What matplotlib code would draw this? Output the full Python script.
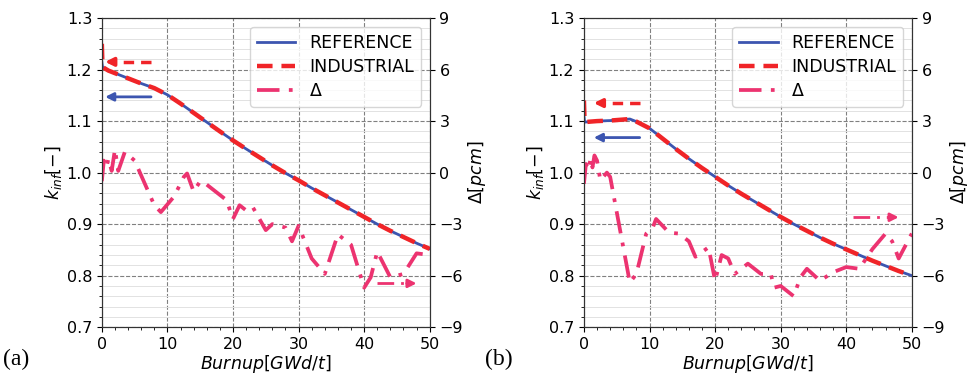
import numpy as np
import matplotlib
matplotlib.use('Agg')
import matplotlib.pyplot as plt
from matplotlib.ticker import MultipleLocator

# ---- data ----
# panel (a)
burnup_a = [0, 0.1, 1, 2, 4, 6, 8, 10, 12, 14, 16, 18, 20, 22, 24, 26, 28, 30,
            32, 34, 36, 38, 40, 42, 44, 46, 48, 50]
kref_a = [1.215, 1.205, 1.198, 1.193, 1.183, 1.173, 1.164, 1.151, 1.134, 1.116,
          1.098, 1.080, 1.0625, 1.046, 1.030, 1.014, 0.999, 0.985, 0.970, 0.956,
          0.942, 0.928, 0.914, 0.900, 0.887, 0.875, 0.863, 0.852]
kind_a = [1.250] + kref_a[1:]
dburn_a = [0, 0.3, 0.7, 1, 1.5, 2, 2.5, 3.5, 5, 8, 9, 11, 12.5, 13, 14, 15, 16,
           19, 20, 21, 22, 23, 25, 26, 28, 29, 30, 32, 34, 36, 38, 40, 41, 42,
           44, 46, 48, 50]
delta_a = [-0.5, 0.7, 0.3, 0.8, 0.1, 1.35, 0.1, 1.2, 0.7, -1.9, -2.3, -1.4, -0.25,
           -0.05, -1.1, -0.5, -0.7, -1.6, -2.7, -1.9, -2.2, -2.0, -3.35, -3.0,
           -3.2, -4.0, -3.1, -5.0, -5.9, -3.6, -4.2, -6.7, -6.1, -4.6, -6.1, -5.9,
           -4.7, -4.8]

# panel (b)
burnup_b = [0, 0.1, 1, 2, 4, 6, 7, 8, 10, 12, 14, 16, 18, 20, 22, 24, 26, 28,
            30, 32, 34, 36, 38, 40, 42, 44, 46, 48, 50]
kref_b = [1.110, 1.098, 1.099, 1.100, 1.101, 1.103, 1.104, 1.099, 1.086, 1.066,
          1.046, 1.027, 1.009, 0.992, 0.975, 0.959, 0.944, 0.929, 0.914, 0.900,
          0.887, 0.874, 0.862, 0.851, 0.840, 0.829, 0.819, 0.809, 0.800]
kind_b = [1.140] + kref_b[1:]
dburn_b = [0, 0.3, 0.7, 1, 1.3, 1.6, 2, 2.5, 3.5, 4, 7, 8, 9.5, 10.5, 11, 12, 13,
           14.5, 16, 17, 19, 20, 21, 22, 23, 25, 27, 28.5, 29, 30, 32, 33, 34, 36,
           38, 40, 42, 44, 46, 47, 48, 50]
delta_b = [-0.65, 0.5, 0.15, 0.8, 0.3, 1.0, 0.7, -0.45, 0, -0.25, -6.4, -5.9,
           -3.55, -3.2, -2.7, -3.1, -3.5, -3.55, -4.0, -4.9, -4.35, -6.3, -4.8,
           -5.0, -5.9, -5.3, -5.9, -5.9, -6.7, -6.6, -7.2, -6.1, -5.6, -6.3, -5.8,
           -5.5, -5.6, -4.45, -3.55, -4.0, -5.0, -3.55]

blue = '#3c55b0'
red = '#f02428'
pink = '#ec3370'

fig = plt.figure(figsize=(9.7, 3.84), dpi=100)


def panel(rect, bu, kref, kind, dbu, delta, red_y, blue_y, red_x, pink_y, pink_x):
    ax = fig.add_axes(rect)
    l1, = ax.plot(bu, kref, color=blue, lw=2, label='REFERENCE')
    l2, = ax.plot(bu, kind, color=red, lw=3.2, ls=(0, (3.5, 2)), label='INDUSTRIAL')
    ax.set_xlim(0, 50)
    ax.set_ylim(0.7, 1.3)
    ax.xaxis.set_major_locator(MultipleLocator(10))
    ax.xaxis.set_minor_locator(MultipleLocator(2))
    ax.yaxis.set_major_locator(MultipleLocator(0.1))
    ax.yaxis.set_minor_locator(MultipleLocator(0.02))
    ax.grid(which='major', ls='--', color='#808080', lw=0.8)
    ax.grid(which='minor', axis='y', ls='-', color='#e2e2e2', lw=0.7)
    ax.tick_params(labelsize=11.5)
    ax.set_xlabel('$Burnup[GWd/t]$', fontsize=12.5, labelpad=1)
    ax.set_ylabel('$k_{inf}[-]$', fontsize=12.5, labelpad=2)

    # direction arrows
    ax.plot([red_x[0], red_x[1] + 0.8], [red_y, red_y], color=red, lw=2.5,
            ls=(0, (3, 2)))
    ax.annotate('', xy=(red_x[1], red_y), xytext=(red_x[1] + 1.5, red_y),
                arrowprops=dict(arrowstyle='-|>', color=red, lw=2.5,
                                mutation_scale=12, shrinkA=0, shrinkB=0))
    ax.annotate('', xy=(red_x[1], blue_y), xytext=(red_x[0], blue_y),
                arrowprops=dict(arrowstyle='-|>', color=blue, lw=2,
                                mutation_scale=12, shrinkA=0, shrinkB=0))

    ax2 = ax.twinx()
    l3, = ax2.plot(dbu, delta, color=pink, lw=2.7, ls=(0, (6, 2.5, 1, 2.5)),
                   label=r'$\Delta$')
    ax2.set_ylim(-9, 9)
    ax2.yaxis.set_major_locator(MultipleLocator(3))
    ax2.tick_params(labelsize=11.5)
    ax2.set_ylabel(r'$\Delta[pcm]$', fontsize=12.5, labelpad=2)
    ax2.plot([pink_x[0], pink_x[1] - 0.8], [pink_y, pink_y], color=pink, lw=2,
             ls=(0, (6, 2.5, 1, 2.5)))
    ax2.annotate('', xy=(pink_x[1], pink_y), xytext=(pink_x[1] - 1.5, pink_y),
                 arrowprops=dict(arrowstyle='-|>', color=pink, lw=2,
                                 mutation_scale=12, shrinkA=0, shrinkB=0))

    leg = ax2.legend(handles=[l1, l2, l3], loc='upper right', fontsize=12.5,
                     handlelength=2.2, borderaxespad=0.5, labelspacing=0.35)
    leg.get_frame().set_edgecolor('#cccccc')
    for a in (ax, ax2):
        for s in a.spines.values():
            s.set_color('#333333')
    return ax


panel([0.105, 0.148, 0.338, 0.805], burnup_a, kref_a, kind_a, dburn_a, delta_a,
      red_y=1.215, blue_y=1.147, red_x=(7.5, 0.5), pink_y=-6.45, pink_x=(42, 48))
panel([0.602, 0.148, 0.338, 0.805], burnup_b, kref_b, kind_b, dburn_b, delta_b,
      red_y=1.135, blue_y=1.068, red_x=(8.5, 1.5), pink_y=-2.6, pink_x=(41, 48))

fig.text(0.003, 0.05, '(a)', fontsize=17, family='Liberation Serif')
fig.text(0.50, 0.05, '(b)', fontsize=17, family='Liberation Serif')

fig.savefig('out.png', dpi=100)
